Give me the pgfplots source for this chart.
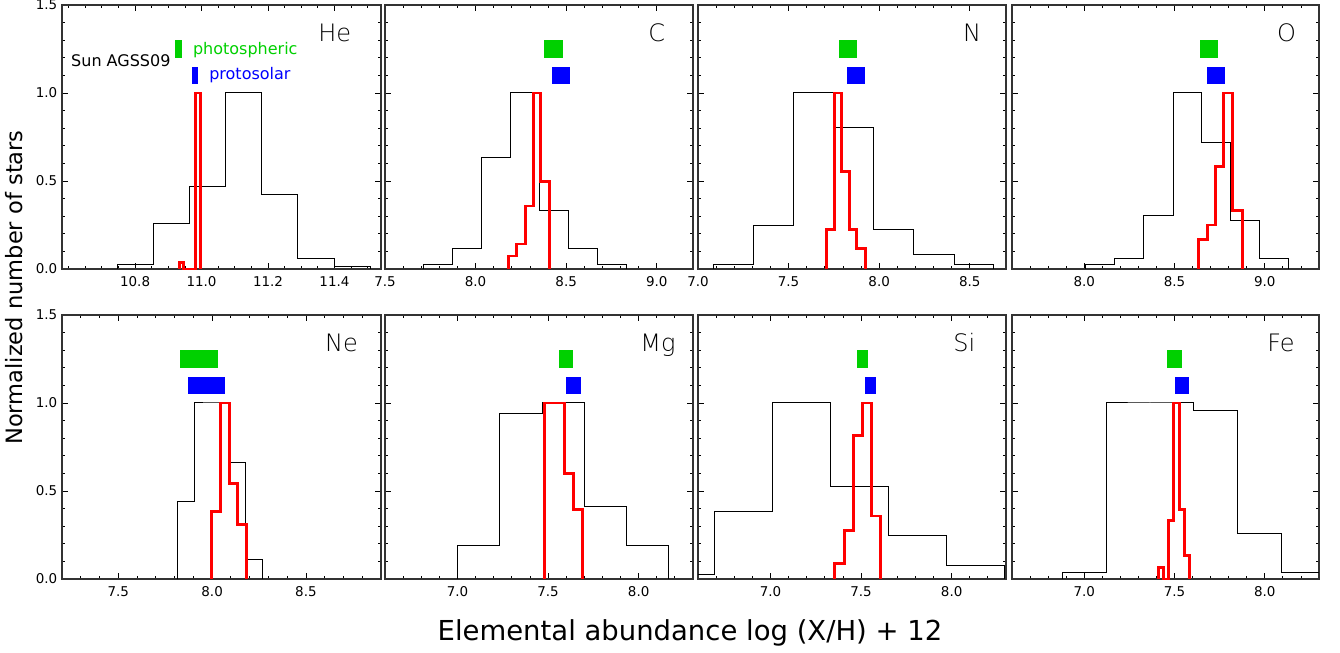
\documentclass[border=0pt]{standalone}
\usepackage{fontspec}
\setmainfont{DejaVu Sans}
\newfontfamily\thinfont{DejaVu Sans ExtraLight}
\usepackage{pgfplots}
\pgfplotsset{compat=1.18}

\definecolor{sungreen}{RGB}{0,208,0}
\definecolor{sunblue}{RGB}{0,0,255}
\definecolor{histred}{RGB}{255,0,0}

\newcommand{\elfont}{\thinfont\fontsize{18}{20}\selectfont}
\newcommand{\legfont}{\fontsize{12}{14}\selectfont}

\pgfplotsset{
  panel/.style={
    scale only axis, width=231pt, height=198pt,
    anchor=south west,
    ymin=0, ymax=1.5,
    ytick={0,0.5,1.0,1.5}, minor y tick num=4,
    yticklabels={},
    xtick distance=0.5, minor x tick num=4,
    tick align=inside,
    major tick length=4.5pt, minor tick length=2.25pt,
    every tick/.style={black, line width=0.6pt},
    axis line style={line width=0.8pt, black!80},
    tick label style={font=\fontsize{10.1}{12}\selectfont},
    xticklabel style={yshift=-2pt, /pgf/number format/.cd, fixed, fixed zerofill, precision=1, assume math mode=true},
    clip=false,
  },
  leftpanel/.style={panel, width=239.25pt, yticklabels={0.0,0.5,1.0,1.5}},
  blackhist/.style={const plot, black, line width=0.75pt, mark=none},
  redhist/.style={const plot, histred, line width=2.2pt, mark=none, line join=miter},
  phot/.style={fill=sungreen, draw=none, mark=none},
  proto/.style={fill=sunblue, draw=none, mark=none},
}

\begin{document}
\begin{tikzpicture}
\path[use as bounding box] (0,0) rectangle (1005pt,489.75pt);

% ---------- row 1 ----------
\begin{axis}[leftpanel, at={(46.5pt,288pt)}, xmin=10.58, xmax=11.54,
  xtick={10.8,11.0,11.2,11.4}, minor xtick={10.6,10.65,...,11.55}]
  \addplot[blackhist] coordinates {(10.746,0) (10.746,0.028) (10.856,0.256) (10.963,0.47) (11.071,1.0) (11.181,0.424) (11.290,0.06) (11.400,0.013) (11.509,0.013) (11.509,0)};
  \addplot[redhist] coordinates {(10.933,0) (10.933,0.038) (10.946,0) (10.958,0) (10.971,0) (10.983,1.0) (10.996,1.0) (10.996,0)};
  \addplot[phot] coordinates {(10.92,1.2) (10.94,1.2) (10.94,1.3) (10.92,1.3)};
  \addplot[proto] coordinates {(10.97,1.05) (10.99,1.05) (10.99,1.15) (10.97,1.15)};
  \node[anchor=base west, inner sep=0, font=\elfont] at (rel axis cs:0.803,0.86) {He};
  \node[anchor=west, inner sep=0, font=\legfont] at (rel axis cs:0.028,0.79) {Sun AGSS09};
  \node[anchor=west, inner sep=0, font=\legfont, text=sungreen] at (rel axis cs:0.41,0.83) {photospheric};
  \node[anchor=west, inner sep=0, font=\legfont, text=sunblue] at (rel axis cs:0.461,0.735) {protosolar};
\end{axis}

\begin{axis}[panel, at={(288.75pt,288pt)}, xmin=7.5, xmax=9.2]
  \addplot[blackhist] coordinates {(7.712,0) (7.712,0.028) (7.872,0.117) (8.030,0.636) (8.192,1.0) (8.353,0.331) (8.515,0.117) (8.675,0.028) (8.835,0.028) (8.835,0)};
  \addplot[redhist] coordinates {(8.181,0) (8.181,0.074) (8.228,0.142) (8.273,0.358) (8.318,1.0) (8.360,0.496) (8.406,0.496) (8.406,0)};
  \addplot[phot] coordinates {(8.38,1.2) (8.48,1.2) (8.48,1.3) (8.38,1.3)};
  \addplot[proto] coordinates {(8.42,1.05) (8.52,1.05) (8.52,1.15) (8.42,1.15)};
  \node[anchor=base west, inner sep=0, font=\elfont] at (rel axis cs:0.854,0.86) {C};
\end{axis}

\begin{axis}[panel, at={(523.5pt,288pt)}, xmin=7.0, xmax=8.7]
  \addplot[blackhist] coordinates {(7.085,0) (7.085,0.027) (7.306,0.246) (7.527,1.0) (7.753,0.803) (7.969,0.222) (8.190,0.080) (8.414,0.027) (8.632,0.027) (8.632,0)};
  \addplot[redhist] coordinates {(7.707,0) (7.707,0.222) (7.753,1.0) (7.794,0.553) (7.834,0.222) (7.877,0.114) (7.923,0.114) (7.923,0)};
  \addplot[phot] coordinates {(7.78,1.2) (7.88,1.2) (7.88,1.3) (7.78,1.3)};
  \addplot[proto] coordinates {(7.82,1.05) (7.92,1.05) (7.92,1.15) (7.82,1.15)};
  \node[anchor=base west, inner sep=0, font=\elfont] at (rel axis cs:0.860,0.86) {N};
\end{axis}

\begin{axis}[panel, width=230.25pt, at={(759pt,288pt)}, xmin=7.6, xmax=9.3]
  \addplot[blackhist] coordinates {(8.009,0) (8.009,0.027) (8.169,0.057) (8.330,0.303) (8.492,1.0) (8.650,0.720) (8.810,0.275) (8.969,0.057) (9.129,0.057) (9.129,0)};
  \addplot[redhist] coordinates {(8.632,0) (8.632,0.169) (8.680,0.25) (8.728,0.581) (8.773,1.0) (8.823,0.335) (8.875,0.335) (8.875,0)};
  \addplot[phot] coordinates {(8.64,1.2) (8.74,1.2) (8.74,1.3) (8.64,1.3)};
  \addplot[proto] coordinates {(8.68,1.05) (8.78,1.05) (8.78,1.15) (8.68,1.15)};
  \node[anchor=base west, inner sep=0, font=\elfont] at (rel axis cs:0.863,0.86) {O};
\end{axis}

% ---------- row 2 ----------
\begin{axis}[leftpanel, at={(46.5pt,55.5pt)}, xmin=7.2, xmax=8.9]
  \addplot[blackhist] coordinates {(7.817,0) (7.817,0.439) (7.906,1.0) (7.998,1.0) (8.091,0.663) (8.176,0.108) (8.268,0.108) (8.268,0)};
  \addplot[redhist] coordinates {(7.995,0) (7.995,0.383) (8.043,1.0) (8.091,0.54) (8.137,0.307) (8.181,0.307) (8.181,0)};
  \addplot[phot] coordinates {(7.83,1.2) (8.03,1.2) (8.03,1.3) (7.83,1.3)};
  \addplot[proto] coordinates {(7.87,1.05) (8.07,1.05) (8.07,1.15) (7.87,1.15)};
  \node[anchor=base west, inner sep=0, font=\elfont] at (rel axis cs:0.824,0.86) {Ne};
\end{axis}

\begin{axis}[panel, at={(288.75pt,55.5pt)}, xmin=6.6, xmax=8.3]
  \addplot[blackhist] coordinates {(7.000,0) (7.000,0.191) (7.232,0.941) (7.470,1.0) (7.700,0.411) (7.932,0.191) (8.166,0.191) (8.166,0)};
  \addplot[redhist] coordinates {(7.479,0) (7.479,1.0) (7.534,1.0) (7.589,0.6) (7.641,0.396) (7.691,0.396) (7.691,0)};
  \addplot[phot] coordinates {(7.56,1.2) (7.64,1.2) (7.64,1.3) (7.56,1.3)};
  \addplot[proto] coordinates {(7.60,1.05) (7.68,1.05) (7.68,1.15) (7.60,1.15)};
  \node[anchor=base west, inner sep=0, font=\elfont] at (rel axis cs:0.828,0.86) {Mg};
\end{axis}

\begin{axis}[panel, at={(523.5pt,55.5pt)}, xmin=6.6, xmax=8.3]
  \addplot[blackhist] coordinates {(6.6,0.023) (6.691,0.386) (7.011,1.0) (7.330,0.525) (7.650,0.246) (7.972,0.076) (8.293,0.076) (8.293,0)};
  \addplot[redhist] coordinates {(7.354,0) (7.354,0.089) (7.407,0.275) (7.456,0.814) (7.506,1.0) (7.556,0.358) (7.607,0.358) (7.607,0)};
  \addplot[phot] coordinates {(7.48,1.2) (7.54,1.2) (7.54,1.3) (7.48,1.3)};
  \addplot[proto] coordinates {(7.52,1.05) (7.58,1.05) (7.58,1.15) (7.52,1.15)};
  \node[anchor=base west, inner sep=0, font=\elfont] at (rel axis cs:0.828,0.86) {Si};
\end{axis}

\begin{axis}[panel, width=230.25pt, at={(759pt,55.5pt)}, xmin=6.6, xmax=8.3]
  \addplot[blackhist] coordinates {(6.882,0) (6.882,0.038) (7.122,1.0) (7.364,1.0) (7.607,0.955) (7.851,0.259) (8.093,0.038) (8.3,0.038)};
  \addplot[redhist] coordinates {(7.412,0) (7.412,0.064) (7.439,0) (7.466,0.331) (7.496,1.0) (7.525,0.396) (7.554,0.131) (7.583,0.131) (7.583,0)};
  \addplot[phot] coordinates {(7.46,1.2) (7.54,1.2) (7.54,1.3) (7.46,1.3)};
  \addplot[proto] coordinates {(7.50,1.05) (7.58,1.05) (7.58,1.15) (7.50,1.15)};
  \node[anchor=base west, inner sep=0, font=\elfont] at (rel axis cs:0.831,0.86) {Fe};
\end{axis}

\node[rotate=90, font=\fontsize{16.9}{20}\selectfont] at (10.5pt,274.1pt) {Normalized number of stars};
\node[anchor=base, font=\fontsize{20.6}{24}\selectfont] at (517.5pt,9pt) {Elemental abundance log (X/H) + 12};
\end{tikzpicture}
\end{document}
